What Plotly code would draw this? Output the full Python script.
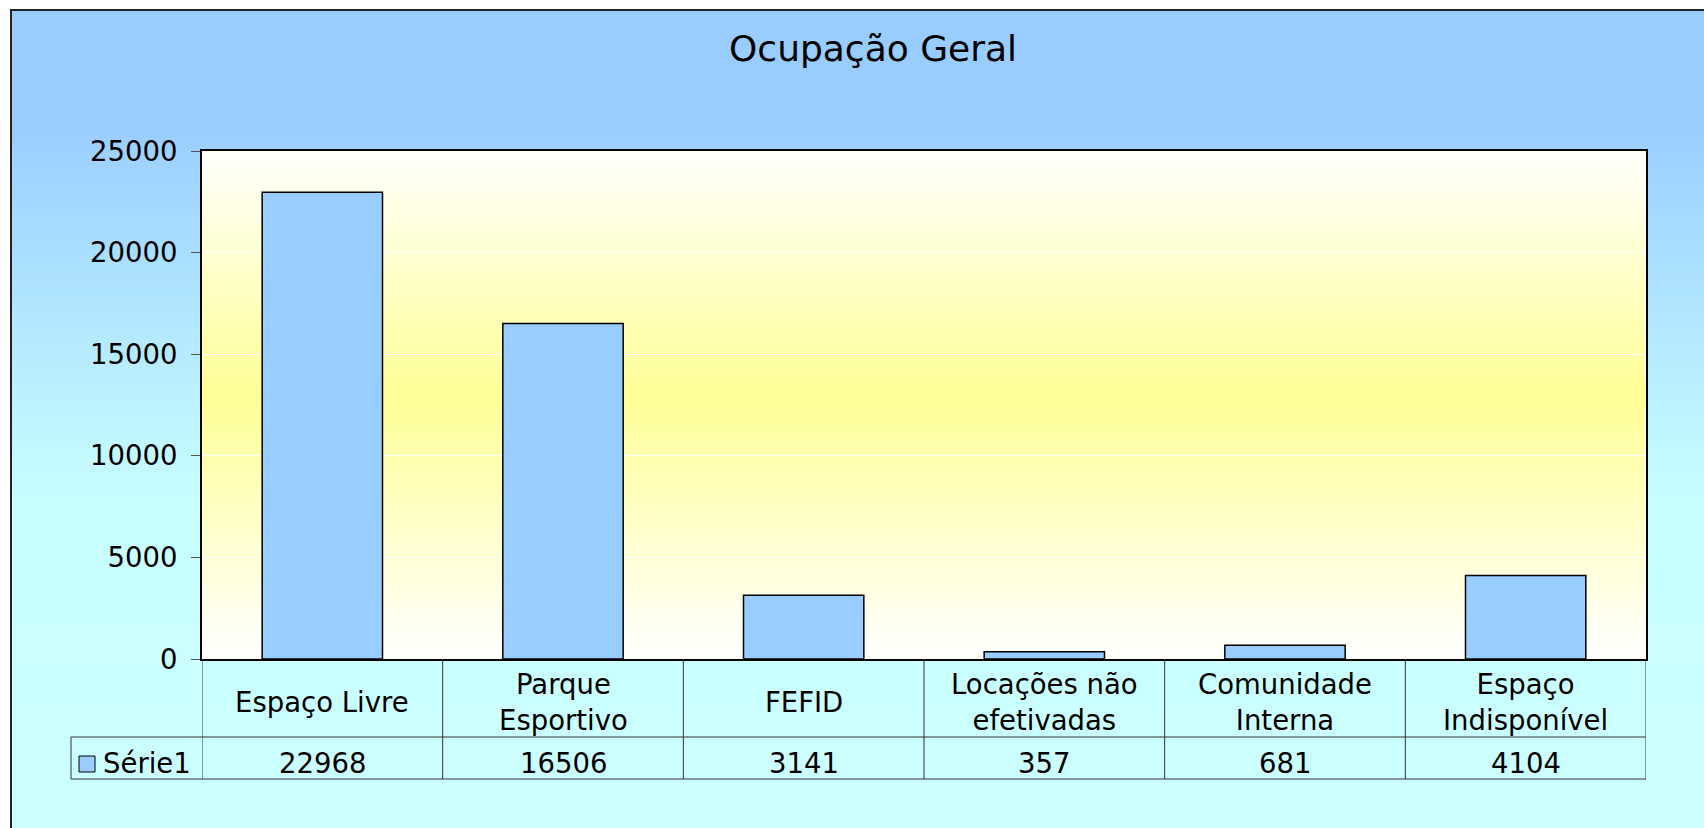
import plotly.graph_objects as go

# ---------------- data ----------------
categories = ["Espaço Livre", "Parque Esportivo", "FEFID",
              "Locações não efetivadas", "Comunidade Interna", "Espaço Indisponível"]
category_labels = ["Espaço Livre", "Parque<br>Esportivo", "FEFID",
                   "Locações não<br>efetivadas", "Comunidade<br>Interna", "Espaço<br>Indisponível"]
series_name = "Série1"
values = [22968, 16506, 3141, 357, 681, 4104]
y_ticks = [0, 5000, 10000, 15000, 20000, 25000]
title_text = "Ocupação Geral"

# ---------------- layout geometry (pixels) ----------------
W, H = 1704, 828
PL, PR, PT, PB = 202, 1646, 151, 659
FONT = "DejaVu Sans"
FS = 27.5


def fx(px):
    return (px - PL) / (PR - PL)


def fy(py):
    return (PB - py) / (PB - PT)


def interp(stops, p):
    if p <= stops[0][0]:
        return stops[0][1]
    for (p0, c0), (p1, c1) in zip(stops[:-1], stops[1:]):
        if p0 <= p <= p1:
            t = (p - p0) / (p1 - p0) if p1 > p0 else 0
            return tuple(round(a + (b - a) * t) for a, b in zip(c0, c1))
    return stops[-1][1]


shapes = []

# paper background gradient (blue -> cyan)
paper_stops = [(10, (153, 204, 255)), (120, (154, 205, 255)),
               (500, (200, 254, 255)), (828, (204, 255, 255))]
step = 6
py = 10
while py < H:
    c = interp(paper_stops, py + step / 2)
    shapes.append(dict(type="rect", xref="paper", yref="paper",
                       x0=fx(11), x1=fx(W + 5), y0=fy(min(py + step + 1, H + 5)), y1=fy(py),
                       fillcolor="rgb(%d,%d,%d)" % c, line=dict(width=0), layer="below"))
    py += step

# plot area gradient (white -> yellow -> white)
plot_stops = [(PT, (255, 255, 253)), (395, (255, 255, 150)), (PB, (255, 255, 255))]
step = 4
py = PT
while py < PB:
    c = interp(plot_stops, py + step / 2)
    shapes.append(dict(type="rect", xref="paper", yref="paper",
                       x0=0, x1=1, y0=fy(min(py + step + 0.6, PB)), y1=fy(py),
                       fillcolor="rgb(%d,%d,%d)" % c, line=dict(width=0), layer="below"))
    py += step

# outer chart frame
shapes.append(dict(type="rect", xref="paper", yref="paper",
                   x0=fx(11), x1=fx(W + 10), y0=fy(H + 10), y1=fy(10),
                   line=dict(color="#222222", width=2), fillcolor="rgba(0,0,0,0)"))

# data table grid
ROW1, ROW2 = 737, 779
LEG_L = 71
grid_col = "#333333"
n = len(categories)
for i in range(n + 1):
    shapes.append(dict(type="line", xref="x", yref="paper",
                       x0=i - 0.5, x1=i - 0.5, y0=fy(PB), y1=fy(ROW2),
                       line=dict(color=grid_col, width=1)))
for yy in (ROW1, ROW2):
    shapes.append(dict(type="line", xref="paper", yref="paper",
                       x0=fx(LEG_L), x1=1, y0=fy(yy), y1=fy(yy),
                       line=dict(color=grid_col, width=1)))
shapes.append(dict(type="line", xref="paper", yref="paper",
                   x0=fx(LEG_L), x1=fx(LEG_L), y0=fy(ROW1), y1=fy(ROW2),
                   line=dict(color=grid_col, width=1)))
# legend key square
shapes.append(dict(type="rect", xref="paper", yref="paper",
                   x0=fx(79), x1=fx(95), y0=fy(772), y1=fy(756),
                   fillcolor="#99CCFF", line=dict(color="#000000", width=1)))

annotations = []
annotations.append(dict(text=title_text, xref="paper", yref="paper",
                        x=fx(873), y=fy(49), xanchor="center", yanchor="middle",
                        showarrow=False, font=dict(family=FONT, size=36, color="#000000")))
for i, (lab, v) in enumerate(zip(category_labels, values)):
    annotations.append(dict(text=lab, xref="x", yref="paper", x=i, y=fy(702),
                            xanchor="center", yanchor="middle", showarrow=False,
                            font=dict(family=FONT, size=FS, color="#000000")))
    annotations.append(dict(text=str(v), xref="x", yref="paper", x=i, y=fy(763),
                            xanchor="center", yanchor="middle", showarrow=False,
                            font=dict(family=FONT, size=FS, color="#000000")))
annotations.append(dict(text=series_name, xref="paper", yref="paper",
                        x=fx(101), y=fy(763), xanchor="left", yanchor="middle",
                        showarrow=False, font=dict(family=FONT, size=FS, color="#000000")))

fig = go.Figure()
fig.add_trace(go.Bar(x=categories, y=values, name=series_name,
                     marker=dict(color="#99CCFF", line=dict(color="#000000", width=1.5)),
                     showlegend=False, hoverinfo="x+y"))

fig.update_layout(
    width=W, height=H, autosize=False,
    margin=dict(l=PL, r=W - PR, t=PT, b=H - PB, pad=0),
    paper_bgcolor="#FFFFFF", plot_bgcolor="rgba(0,0,0,0)",
    bargap=0.5,
    showlegend=False,
    shapes=shapes, annotations=annotations,
    font=dict(family=FONT, size=FS, color="#000000"),
)
fig.update_xaxes(type="category", range=[-0.5, n - 0.5], showticklabels=False,
                 ticks="", showgrid=False, showline=True, linecolor="#000000",
                 linewidth=2, mirror=True, zeroline=False)
fig.update_yaxes(range=[0, 25000], tickvals=y_ticks, ticktext=[str(t) for t in y_ticks],
                 ticks="outside", ticklen=9, tickcolor="#555555", tickwidth=1,
                 ticklabelstandoff=8,
                 showgrid=True, gridcolor="#FFFFFF", gridwidth=1,
                 showline=True, linecolor="#000000", linewidth=2, mirror=True,
                 zeroline=False, tickfont=dict(family=FONT, size=FS, color="#000000"))

fig.write_html("out.html", config={"displayModeBar": False},
               post_script="document.body.style.margin='0';document.body.style.overflow='hidden';")
